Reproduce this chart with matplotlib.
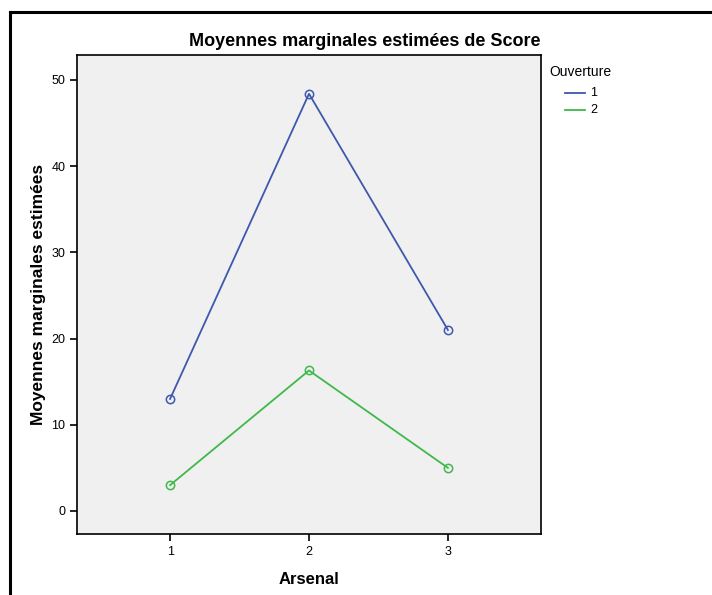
import matplotlib.pyplot as plt
from matplotlib.lines import Line2D

plt.rcParams['font.family'] = ['Liberation Sans', 'DejaVu Sans']

# === Estimated marginal means ===
arsenal = [1, 2, 3]
score_ouv1 = [13.0, 48.4, 21.0]
score_ouv2 = [3.0, 16.3, 5.0]
groups = ["1", "2"]
colors = ["#3E58AC", "#3EB94A"]

fig = plt.figure(figsize=(7.12, 5.95), dpi=100)
ax = fig.add_axes([77 / 712, 1 - 534 / 595, 464 / 712, 479 / 595])
ax.set_facecolor("#F0F0F0")

for vals, c, lab in zip([score_ouv1, score_ouv2], colors, groups):
    ax.plot(arsenal, vals, color=c, linewidth=1.3, marker='o', markersize=6,
            markerfacecolor='none', markeredgecolor=c, markeredgewidth=1.1, label=lab)

ax.set_xlim(0.33, 3.67)
ax.set_ylim(-2.67, 52.9)
ax.set_xticks(arsenal)
ax.set_yticks([0, 10, 20, 30, 40, 50])
ax.tick_params(direction='out', length=5, width=1.2, labelsize=9, colors='black')
for s in ax.spines.values():
    s.set_linewidth(1.2)

fig.text(365 / 712, 1 - 41 / 595, "Moyennes marginales estimées de Score",
         fontsize=13, fontweight='bold', ha='center', va='center')
ax.set_xlabel("Arsenal", fontsize=12, fontweight='bold', labelpad=10)
ax.set_ylabel("Moyennes marginales estimées", fontsize=12.5, fontweight='bold', labelpad=4)

# legend on the right
fig.text(549 / 712, 1 - 72 / 595, "Ouverture", fontsize=10, va='center', ha='left')
for i, (c, lab) in enumerate(zip(colors, groups)):
    y = 1 - (93 + 17 * i) / 595
    fig.add_artist(Line2D([565 / 712, 585 / 712], [y, y], color=c, linewidth=1.3))
    fig.text(590 / 712, y, lab, fontsize=9, va='center', ha='left')

# outer frame
fig.add_artist(Line2D([9.5 / 712, 9.5 / 712], [0, 1 - 12 / 595], color='black', linewidth=2.2))
fig.add_artist(Line2D([9.5 / 712, 1], [1 - 12 / 595, 1 - 12 / 595], color='black', linewidth=2.2))

fig.savefig("out.png", dpi=100)
